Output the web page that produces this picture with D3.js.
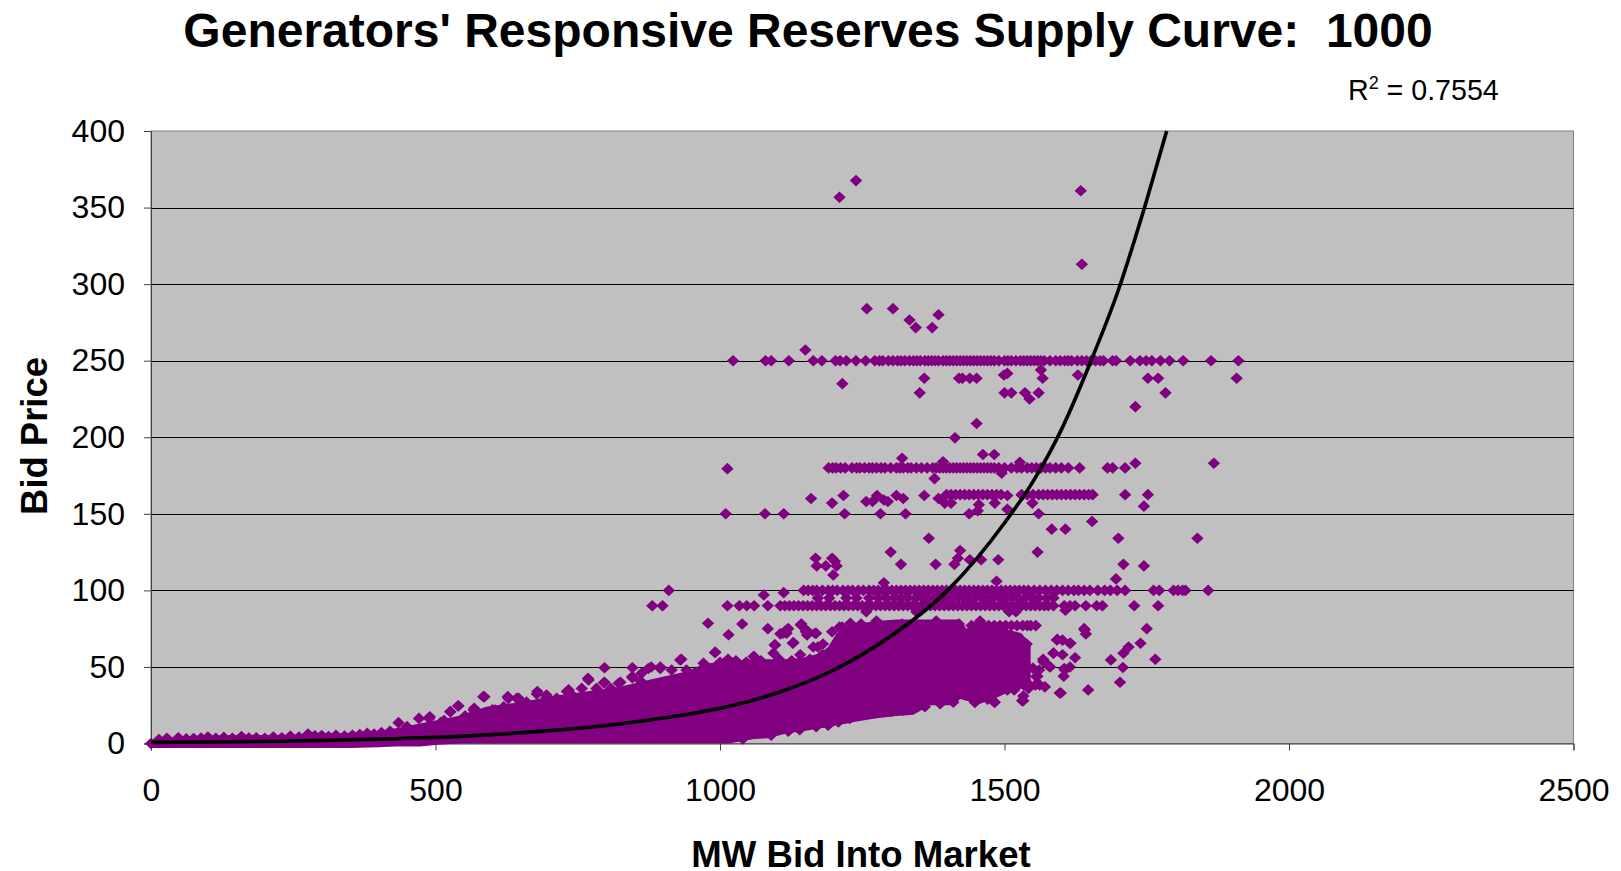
<!DOCTYPE html>
<html><head><meta charset="utf-8">
<script src="https://cdnjs.cloudflare.com/ajax/libs/d3/7.8.5/d3.min.js"></script>
<style>html,body{margin:0;padding:0;background:#fff}svg{display:block}text{font-family:"Liberation Sans",Arial,sans-serif;fill:#000}</style>
</head><body><svg id="c" width="1621" height="871"></svg>
<script>
const titleText = "Generators' Responsive Reserves Supply Curve:  1000";
const xTitle = "MW Bid Into Market", yTitle = "Bid Price";
const xTicks = [0,500,1000,1500,2000,2500];
const yTicks = [0,50,100,150,200,250,300,350,400];

// Rows of bids at common price levels (MW values)
const row250 = [1023,1080,1090,1121,1164,1179,1203,1211,1222,1239,1256,1272,1280,1286,1296,1304,1312,1318,1325,1333,1340,1346,1352,1360,1366,1372,1378,1384,1392,1398,1404,1410,1416,1422,1428,1434,1440,1446,1452,1458,1464,1470,1476,1482,1490,1500,1506,1512,1520,1528,1534,1540,1546,1552,1558,1564,1570,1580,1590,1598,1606,1612,1618,1628,1636,1644,1652,1660,1668,1674,1690,1696,1721,1738,1749,1759,1774,1790,1814,1863,1911];
const row180 = [1191,1198,1204,1212,1220,1232,1240,1246,1254,1262,1268,1275,1283,1290,1300,1310,1316,1322,1330,1336,1345,1354,1364,1374,1380,1386,1392,1398,1404,1410,1416,1422,1428,1434,1440,1446,1452,1458,1464,1470,1476,1482,1490,1500,1512,1522,1530,1540,1548,1556,1564,1572,1580,1590,1600,1612,1632,1681,1690,1712];
const row162 = [1398,1406,1414,1422,1430,1438,1446,1454,1462,1470,1478,1486,1494,1530,1540,1550,1560,1568,1576,1584,1592,1600,1608,1616,1624,1632,1640,1648,1655,1712,1752];
const row100 = [1147,1155,1163,1170,1180,1190,1198,1206,1216,1225,1233,1243,1252,1262,1270,1278,1286,1294,1302,1310,1318,1326,1334,1342,1350,1358,1366,1374,1382,1390,1398,1406,1414,1422,1430,1438,1446,1454,1462,1470,1478,1486,1494,1502,1510,1518,1526,1534,1542,1552,1562,1572,1582,1592,1602,1612,1622,1630,1640,1650,1664,1676,1686,1698,1712,1762,1772,1797,1805,1813,1818,1858];
const row90 = [1013,1034,1047,1060,1084,1106,1114,1122,1130,1138,1146,1154,1162,1170,1178,1186,1194,1202,1210,1218,1226,1234,1242,1250,1258,1266,1274,1282,1290,1298,1306,1314,1322,1330,1338,1346,1354,1362,1370,1378,1386,1394,1402,1410,1418,1426,1434,1442,1450,1458,1466,1474,1482,1490,1498,1506,1514,1522,1530,1538,1546,1554,1562,1570,1577,1586,1605,1615,1624,1643,1662,1672,1728,1770];
const row95 = [1172,1192,1222,1240,1262,1278,1292,1306,1318,1330,1344,1356,1366,1378,1388,1398,1408,1418,1428,1438,1448,1460,1470,1480,1492,1502,1514,1524,1536,1548,1560,1574,1586];
const row77 = [1442,1452,1462,1472,1482,1492,1502,1512,1522,1532,1540,1546,1555];
const row49 = [1469,1480,1492,1504,1516,1528,1540,1550];
const row38 = [1504,1514,1524,1534,1544,1554,1562];

// Scattered individual bids, MW
const scatterMW = [1239,1210,1634,1636,1258,1304,1333,1344,1373,1384,1150,1215,1359,1351,1420,1426,1439,1451,1499,1505,1564,1567,1629,1500,1512,1536,1544,1560,1451,1752,1770,1783,1730,1908,
1413,1320,1462,1482,1013,1730,1868,1392,1527,1377,1495,1745,1160,1197,1217,1257,1268,1276,1288,1295,1310,1322,1359,1384,1395,1406,1483,1505,1531,1549,1455,
1010,1079,1112,1219,1282,1326,1438,1453,1505,1560,1654,1583,1607,1367,1700,1839,1558,1300,1422,1318,1379,1412,1418,1439,1459,1489,1709,1745,1168,1197,1170,1186,1205,1199,1202,1696,1288,1486,1077,1112,1257,1345,1508,1520,1607,
979,1039,1015,1084,1116,1106,1143,1152,1169,1153,1128,1096,1172,1181,1094,1059,1014,992,1141,1197,1210,1229,
1539,1527,1568,1558,1571,1542,1517,1505,1533,1533,1483,1448,1599,1647,1703,1708,1687,1709,1718,1739,1765,1750,1640,1643,1593,1602,1616,1624,1586,1602,1577,1605,1615,1604,1561,1558,
881,899,910,797,846,879,895,932,797,846,768,734,825,679,695,627,643,586,540,526,568,490,471,435,
0,14,28,48,62,75,88,100,114,128,143,159,172,185,200,215,230,245,260,276,288,300,312,325,340,354,367,380,392,405,420,
489,509,526,540,567,584,605,628,646,678,695,713,731,757,769,783,796,822,846,862,874,895,930,941,971,991,1015,1060,1097,1111,1120,1142,1155,1117,1151,1167,1129,1164,
1169,1208,1228,1255,1278,1323,1340,1387,1448,1482,1531,1120,1190,1300,1360,1410,1470,1090,1140,1040,
1215,1248,1275,1320,1380,1457,1420,1533,1556,1568,1586,1592,1615,1606,1580,1597,1641,
1000,1028,1046,1072,1104,1126,1158,1180,450,515,552,600,620,660,742,808,860,915];
// Scattered individual bids, price (same order as scatterMW)
const scatterPrice = [367.6,356.7,361,313,284,284,276.6,271.6,271.6,280,257,235,238.5,229,238.5,238.5,238.5,238.5,240.7,241.7,244,238.5,240.7,229,229,229,225,229,209,238.5,238.5,229,220,238.5,
199.6,186.3,188.7,188.7,179.5,183,183,184,183.7,173,176.5,155,160,157,162,158,158,162,159,158,162,160,162,160,157,157,157,162,162,157,156,
150,150,150,150,150,150,150,152,153,150,145,140,140,134,134,134,125,125,126,117,117,117,121,120,120,120,117,116,121,121,116,116,116,110,119,107.5,105,106,97,98.5,86,86,86,86,87,
78.5,78,71,75,74,71.6,78,74,72,70.9,65.5,64.4,63,65,59,56.8,55,59.6,58,73,76,78.5,
65,57,55,44,37,36,35,35,28,31,27,27,33,35,40,49.6,54.6,59,63,65.5,55,75,75,71.5,68,67.5,65.5,56,59,58,51,49,50,44,48,39,
90,90,100,49.5,49.5,50,50,55,40,43,42.5,35,40,34,31.7,30.6,29.5,30.5,24.5,20.8,23,17.5,16.4,13.6,
0,2.6,3.4,3.8,3,3.2,3.6,4.2,3.4,4,3.4,4.6,3.6,3.8,3.4,4.2,3.8,4.8,4.2,6.2,5,5.2,4.6,5.4,4.8,5.4,5.8,6.6,6.2,7.2,8,
16.4,13.6,20.8,24.7,21.9,30.6,21.9,29.5,29.5,32.3,30,29.5,33.9,36,41.5,36,39.7,39.3,43.7,45.8,49,49,54.5,48,52.4,59.5,54.5,56.7,64.3,72,75,77.4,73,72,73,72,66,63,
11,14.1,16.3,19.6,20.7,21.7,22.8,26,27,27,28,8,12,21,24,27,29,5.5,9,3,
76,78,80,78,80,80,78,66.5,43.7,53.5,59,67.6,65.5,48,50,33,74.2,
53,54,53,54,55,54,55,58,11,15,18,22,24,27,31,36,41,48];

// Overplotted mass of bids: envelope
const massMW   = [0,50,100,160,220,280,350,400,430,473,500,540,589,650,707,765,824,880,941,971,1015,1060,1085,1116,1146,1176,1190,1205,1223,1235,1275,1310,1340,1369,1410,1422,1433,1457,1487,1510,1530,1546];
const massHigh = [2,4.5,5,5.5,5.5,6,7,8,10,13,15,18,24,27,31,34,37,42,47,52,54,55,55,55,56,59,63,72,76,78,80,81,81,81,81,81,75,80,76,74,72,64];
const massLow  = [-3,-3,-3,-3,-3,-3,-3,-2.5,-2,-2,-1,0,0,0,0,0,0,0,0,0,0,3,3.5,6.6,8,10,10.5,12,13,14,16.5,18,18.7,25,25,29,28,26,30,34,36,38];

// Fitted trend line
const trendMW    = [0,100,200,300,400,500,600,700,800,900,1000,1100,1200,1300,1400,1500,1550,1600,1650,1700,1750,1785];
const trendPrice = [0.75,1,1.4,2,2.9,4,5.8,8.4,11.8,16.6,23,33,48,70,100,144,171,205,248,296,355,400];

const plot = {l:151,r:1573.5,t:131,b:743.5};
const x = d3.scaleLinear().domain([0,2500]).range([plot.l,plot.r]);
const y = d3.scaleLinear().domain([0,400]).range([plot.b,plot.t]);
const svg = d3.select("#c");

svg.append("rect").attr("x",plot.l).attr("y",plot.t).attr("width",plot.r-plot.l).attr("height",plot.b-plot.t)
   .attr("fill","#C0C0C0").attr("stroke","#808080").attr("stroke-width",1);

svg.append("g").selectAll("line").data(yTicks.filter(d=>d>0&&d<400)).join("line")
   .attr("x1",plot.l).attr("x2",plot.r).attr("y1",d=>Math.round(y(d))+.5).attr("y2",d=>Math.round(y(d))+.5)
   .attr("stroke","#000").attr("stroke-width",1);

const xAxis = d3.axisBottom(x).tickValues(xTicks).tickSize(7).tickPadding(28).tickFormat(d3.format("d"));
const yAxis = d3.axisLeft(y).tickValues(yTicks).tickSize(7).tickPadding(19).tickFormat(d3.format("d"));
const gx = svg.append("g").attr("transform",`translate(0,${plot.b})`).call(xAxis);
const gy = svg.append("g").attr("transform",`translate(${plot.l},0)`).call(yAxis);
[gx,gy].forEach(g=>{g.selectAll("text").attr("font-size",32).attr("font-family",'"Liberation Sans",Arial,sans-serif');
  g.selectAll("path,line").attr("stroke","#404040");});

const color = "#800080";
const area = d3.area().x((d,i)=>x(massMW[i])).y0((d,i)=>y(massLow[i])).y1((d,i)=>y(massHigh[i]));
svg.append("path").attr("d",area(massMW)).attr("fill",color);

const pts = [];
row250.forEach(v=>pts.push([v,250]));
row180.forEach(v=>pts.push([v,180]));
row162.forEach(v=>pts.push([v,162.5]));
row100.forEach(v=>pts.push([v,100]));
row95.forEach(v=>pts.push([v,95]));
row90.forEach(v=>pts.push([v,90]));
row77.forEach(v=>pts.push([v,77]));
row49.forEach(v=>pts.push([v,49.2]));
row38.forEach(v=>pts.push([v,38.2]));
scatterMW.forEach((v,i)=>pts.push([v,scatterPrice[i]]));
svg.append("g").selectAll("path").data(pts).join("path")
   .attr("d","M0,-5.8L6.2,0L0,5.8L-6.2,0Z")
   .attr("transform",d=>`translate(${x(d[0])},${y(d[1])})`).attr("fill",color);

const line = d3.line().x((d,i)=>x(trendMW[i])).y((d,i)=>y(trendPrice[i])).curve(d3.curveMonotoneX);
svg.append("path").attr("d",line(trendMW)).attr("fill","none").attr("stroke","#000").attr("stroke-width",3.6);

svg.append("text").attr("x",808).attr("y",47).attr("text-anchor","middle").attr("font-size",48).attr("font-weight","bold").style("white-space","pre").text(titleText);
svg.append("text").attr("x",861).attr("y",867).attr("text-anchor","middle").attr("font-size",36.6).attr("font-weight","bold").text(xTitle);
svg.append("text").attr("transform","translate(47,436) rotate(-90)").attr("text-anchor","middle").attr("font-size",36.4).attr("font-weight","bold").text(yTitle);
const r2 = svg.append("text").attr("x",1348).attr("y",100).attr("font-size",28.6);
r2.append("tspan").text("R");
r2.append("tspan").attr("dy",-11).attr("font-size",18).text("2");
r2.append("tspan").attr("dy",11).text(" = 0.7554");
</script></body></html>
